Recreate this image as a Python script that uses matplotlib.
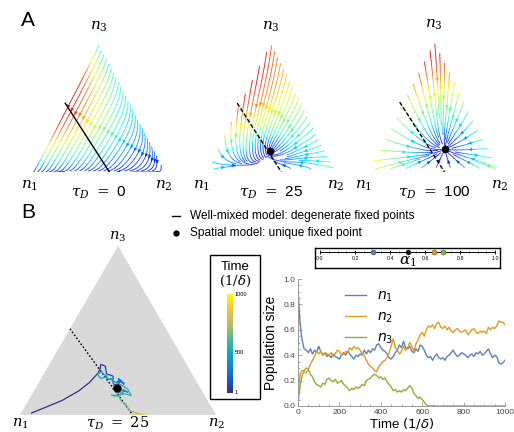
import numpy as np
import matplotlib.pyplot as plt
from matplotlib.collections import LineCollection
from matplotlib.colors import LinearSegmentedColormap, ListedColormap, Normalize
from matplotlib.patches import Rectangle, Polygon
from matplotlib.lines import Line2D

# ---- data ----
tau_labels = ["0", "25", "100"]
attract_weight = [0.0, 0.45, 0.85]
# fixed points (n1, n2, n3); None where the well-mixed model has only the line
fixed_pts = [None, (0.43, 0.415, 0.155), (0.335, 0.495, 0.17)]
fixed_pt_B = (0.425, 0.415, 0.16)
# degenerate fixed-point line: left-edge end (n3) and bottom-edge end (n2)
line_n3_left = 0.51
line_n2_bottom = 0.575
line_styles = ["-", (0, (3, 1.5)), (0, (3, 1.5))]
# number of seed streamlines along the right, left and bottom edges of each simplex
seeds_per_edge = [(28, 0, 0), (22, 9, 7), (14, 11, 9)]

alpha_dots = [0.3, 0.5, 0.65, 0.7]
alpha_cols = ["#5e81b5", "black", "#e19c24", "#8fb032"]

t = [0, 5, 10, 15, 20, 25, 30] + list(range(40, 1001, 10))
n1 = [0.93, 0.78, 0.66, 0.58, 0.52, 0.48, 0.45, 0.44, 0.42, 0.45, 0.41, 0.44, 0.42, 0.47,
      0.43, 0.40, 0.42, 0.39, 0.40, 0.38, 0.41, 0.39, 0.38, 0.37, 0.40, 0.42, 0.40, 0.43,
      0.41, 0.39, 0.37, 0.40, 0.39, 0.41, 0.40, 0.44, 0.41, 0.44, 0.42, 0.45, 0.44, 0.48,
      0.49, 0.46, 0.44, 0.43, 0.41, 0.38, 0.37, 0.39, 0.42, 0.44, 0.48, 0.46, 0.51, 0.46,
      0.45, 0.47, 0.43, 0.42, 0.45, 0.43, 0.48, 0.47, 0.44, 0.40, 0.38, 0.39, 0.36, 0.39,
      0.41, 0.38, 0.37, 0.38, 0.36, 0.39, 0.40, 0.42, 0.44, 0.41, 0.39, 0.40, 0.42, 0.41,
      0.40, 0.38, 0.40, 0.41, 0.39, 0.42, 0.41, 0.43, 0.40, 0.41, 0.43, 0.45, 0.41, 0.38,
      0.40, 0.39, 0.34, 0.33, 0.34, 0.36]
n2 = [0.05, 0.18, 0.24, 0.27, 0.28, 0.28, 0.27, 0.26, 0.29, 0.33, 0.36, 0.39, 0.43, 0.41,
      0.43, 0.40, 0.42, 0.41, 0.40, 0.42, 0.39, 0.41, 0.44, 0.43, 0.40, 0.41, 0.43, 0.42,
      0.46, 0.44, 0.47, 0.45, 0.46, 0.44, 0.41, 0.40, 0.36, 0.33, 0.31, 0.30, 0.28, 0.27,
      0.31, 0.33, 0.35, 0.36, 0.38, 0.42, 0.47, 0.53, 0.46, 0.44, 0.41, 0.43, 0.47, 0.44,
      0.46, 0.50, 0.47, 0.43, 0.49, 0.52, 0.56, 0.58, 0.55, 0.60, 0.63, 0.62, 0.64, 0.61,
      0.65, 0.66, 0.62, 0.61, 0.63, 0.60, 0.62, 0.59, 0.58, 0.60, 0.61, 0.59, 0.58, 0.59,
      0.60, 0.56, 0.58, 0.60, 0.61, 0.58, 0.57, 0.59, 0.58, 0.59, 0.57, 0.62, 0.60, 0.62,
      0.61, 0.63, 0.67, 0.66, 0.66, 0.64]
n3 = [0.01, 0.09, 0.15, 0.20, 0.24, 0.26, 0.28, 0.30, 0.29, 0.25, 0.23, 0.19, 0.17, 0.16,
      0.15, 0.18, 0.17, 0.21, 0.22, 0.20, 0.19, 0.21, 0.18, 0.19, 0.20, 0.17, 0.16, 0.14,
      0.12, 0.14, 0.13, 0.15, 0.14, 0.15, 0.17, 0.16, 0.20, 0.21, 0.22, 0.24, 0.25, 0.24,
      0.22, 0.23, 0.21, 0.22, 0.19, 0.17, 0.15, 0.12, 0.13, 0.11, 0.12, 0.11, 0.13, 0.12,
      0.14, 0.16, 0.14, 0.10, 0.08, 0.06, 0.07, 0.05, 0.03, 0.01, 0.0, 0.0, 0.0, 0.0,
      0.0, 0.0, 0.0, 0.0, 0.0, 0.0, 0.0, 0.0, 0.0, 0.0, 0.0, 0.0, 0.0, 0.0,
      0.0, 0.0, 0.0, 0.0, 0.0, 0.0, 0.0, 0.0, 0.0, 0.0, 0.0, 0.0, 0.0, 0.0,
      0.0, 0.0, 0.0, 0.0, 0.0, 0.0]

c_n1, c_n2, c_n3 = "#5e81b5", "#e19c24", "#8fb032"

plt.rcParams['font.family'] = ['Liberation Sans', 'DejaVu Sans']

W, H = 514, 432
fig = plt.figure(figsize=(W / 100, H / 100), dpi=100)


def px_axes(x0, y0, x1, y1):
    return fig.add_axes([x0 / W, 1 - y1 / H, (x1 - x0) / W, (y1 - y0) / H])


def to_xy(b1, b2, b3):
    s = b1 + b2 + b3
    return (b2 + 0.5 * b3) / s, b3 / s


jet = ListedColormap(plt.cm.jet(np.linspace(0.15, 0.92, 256)))
parula = LinearSegmentedColormap.from_list(
    "parula", ["#352a87", "#0f5cdd", "#1481d6", "#06a4ca", "#2eb7a4",
               "#87bf77", "#d1bb59", "#fec832", "#f9fb0e"])


def tri_labels(ax, tau, h):
    kw = dict(ha="center", va="center", fontsize=11, math_fontfamily="dejavuserif")
    ax.text(0.5, 1 + 10 / h, r"$n_3$", **kw)
    ax.text(0.0, -14 / h, r"$n_1$", **kw)
    ax.text(0.97, -14 / h, r"$n_2$", **kw)
    ax.text(0.5, -21 / h, r"$\tau_D\ =\ $" + tau, **kw)


def flow(w, fp):
    xs = np.linspace(0, 1, 160)
    X, Y = np.meshgrid(xs, xs)
    b3 = Y
    b2 = X - 0.5 * Y
    b1 = 1 - b2 - b3
    inside = (b1 >= -0.004) & (b2 >= -0.004)
    # exchange fluxes 3->1, 3->2 (only close to the n2-n3 edge), 2->1
    F31 = b3 * (b1 + 0.06)
    F32 = 0.3 * b2 * b3 * np.exp(-np.clip(b1, 0, None) / 0.08)
    F21 = 0.05 * b1 * b2
    d1 = F31 + F21
    d2 = F32 - F21
    d3 = -F31 - F32
    if fp is not None:
        dist = np.sqrt((b1 - fp[0]) ** 2 + (b2 - fp[1]) ** 2 + (b3 - fp[2]) ** 2)
        damp = np.minimum(1, dist / 0.25)
        d1 = (1 - w) * d1 * damp + w * 0.45 * (fp[0] - b1)
        d2 = (1 - w) * d2 * damp + w * 0.45 * (fp[1] - b2)
        d3 = (1 - w) * d3 * damp + w * 0.45 * (fp[2] - b3)
    U = d2 + 0.5 * d3
    V = d3
    spd = np.sqrt(U ** 2 + V ** 2)
    lo, hi = np.percentile(spd[inside], [3, 97])
    spd = np.clip(spd, lo, hi)
    spd[~inside] = lo
    U = np.ma.array(U, mask=~inside)
    V = np.ma.array(V, mask=~inside)
    return X, Y, U, V, spd, Normalize(lo, hi)


def seeds(nr, nl, nb):
    e = 0.02
    pts = []
    for s in np.linspace(0.03, 0.95, nr) if nr else []:
        pts.append(to_xy(e, 1 - e - s, s))
    for s in np.linspace(0.08, 0.9, nl) if nl else []:
        pts.append(to_xy(1 - e - s, e, s))
    for s in np.linspace(0.06, 0.94, nb) if nb else []:
        pts.append(to_xy(1 - e - s, s, e))
    return np.array(pts)


# ---- panel A ----
boxes_A = [(30, 37, 168, 172), (202, 37, 340, 172), (364, 35, 504, 172)]
for i, (x0, y0, x1, y1) in enumerate(boxes_A):
    ax = px_axes(x0, y0, x1, y1)
    X, Y, U, V, spd, nrm = flow(attract_weight[i], fixed_pts[i])
    kw = dict(color=spd, cmap=jet, norm=nrm, linewidth=0.6, arrowsize=0.4,
              start_points=seeds(*seeds_per_edge[i]), density=2.6,
              integration_direction="forward", maxlength=6.0)
    try:
        ax.streamplot(X, Y, U, V, num_arrows=3, **kw)
    except TypeError:
        ax.streamplot(X, Y, U, V, **kw)
    lx, ly = to_xy(1 - line_n3_left, 0, line_n3_left)
    bx, by = to_xy(1 - line_n2_bottom, line_n2_bottom, 0)
    ax.plot([lx, bx], [ly, by], color="black", lw=1.0, ls=line_styles[i])
    if fixed_pts[i] is not None:
        px, py = to_xy(*fixed_pts[i])
        ax.plot(px, py, "o", color="black", ms=4.5)
    ax.set_xlim(0, 1)
    ax.set_ylim(0, 1)
    ax.axis("off")
    tri_labels(ax, tau_labels[i], y1 - y0)

fig.text(28 / W, 1 - 20 / H, "A", fontsize=15, ha="center", va="center")
fig.text(28 / W, 1 - 213 / H, "B", fontsize=15, ha="center", va="center")

# ---- legend text ----
fig.add_artist(Line2D([172 / W, 180 / W], [1 - 216 / H] * 2, color="black", lw=1.0))
fig.add_artist(Line2D([176 / W], [1 - 233 / H], marker="o", color="black", ms=3.5))
fig.text(190 / W, 1 - 216 / H, "Well-mixed model: degenerate fixed points",
         fontsize=8.6, va="center")
fig.text(190 / W, 1 - 233 / H, "Spatial model: unique fixed point",
         fontsize=8.6, va="center")

# ---- panel B simplex ----
axb = px_axes(20, 246, 216, 415)
axb.add_patch(Polygon([[0, 0], [1, 0], [0.5, 1]], closed=True, color="#d9d9d9", lw=0))
lx, ly = to_xy(1 - line_n3_left, 0, line_n3_left)
bx, by = to_xy(1 - line_n2_bottom, line_n2_bottom, 0)
axb.plot([lx, bx], [ly, by], color="black", lw=1.1, ls=(0, (1, 1.4)))
pts = np.array([to_xy(a, b, c) for a, b, c in zip(n1, n2, n3)])
segs = np.stack([pts[:-1], pts[1:]], axis=1)
lc = LineCollection(segs, cmap=parula, linewidths=0.9)
lc.set_array(np.array(t[1:], dtype=float))
lc.set_clim(1, 1000)
axb.add_collection(lc)
px, py = to_xy(*fixed_pt_B)
axb.plot(px, py, "o", color="black", ms=5)
axb.set_xlim(0, 1)
axb.set_ylim(0, 1)
axb.axis("off")
hb = 415 - 246
kw = dict(ha="center", va="center", fontsize=10.5, math_fontfamily="dejavuserif")
axb.text(0.5, 1 + 9 / hb, r"$n_3$", **kw)
axb.text(0.0, -9 / hb, r"$n_1$", **kw)
axb.text(1.0, -9 / hb, r"$n_2$", **kw)
axb.text(0.5, -8 / hb, r"$\tau_D\ =\ 25$", **kw)

# ---- colorbar box ----
fig.add_artist(Rectangle((210 / W, 1 - 399 / H), 50 / W, 144 / H, transform=fig.transFigure,
                         fill=False, ec="black", lw=1.0))
fig.text(235 / W, 1 - 267 / H, "Time", fontsize=9.5, ha="center", va="center")
fig.text(235 / W, 1 - 281 / H, r"$(1/\delta)$", fontsize=9.5, ha="center", va="center",
         math_fontfamily="dejavuserif")
cax = px_axes(227, 294, 233, 393)
cax.imshow(np.linspace(1, 0, 200)[:, None], aspect="auto", cmap=parula, extent=[0, 1, 0, 1])
cax.set_xticks([])
cax.set_yticks([])
for s in cax.spines.values():
    s.set_visible(False)
for lab, yy in [("1000", 295), ("500", 353), ("1", 392)]:
    fig.text(235 / W, 1 - yy / H, lab, fontsize=4, va="center")

# ---- alpha scale ----
axa = px_axes(315, 248, 500, 268)
axa.set_xlim(-5 / 175, 1 + 5 / 175)
axa.set_ylim(0, 1)
axa.set_xticks([])
axa.set_yticks([])
for s in axa.spines.values():
    s.set_linewidth(1.0)
axa.plot([0, 1], [0.8, 0.8], color="black", lw=0.7)
axa.vlines(np.arange(0, 1.001, 0.2), 0.68, 0.92, color="black", lw=0.6)
axa.vlines(np.arange(0.05, 1.0, 0.05), 0.74, 0.86, color="black", lw=0.5)
for v in np.arange(0, 1.001, 0.2):
    axa.text(v, 0.45, f"{v:.1f}", fontsize=3.8, ha="center", va="center")
for v, c in zip(alpha_dots, alpha_cols):
    axa.plot(v, 0.8, "o", color=c, ms=3.6, mec="#333333", mew=0.3)
axa.text(0.5, 0.3, r"$\alpha_1$", fontsize=11, ha="center", va="center",
         math_fontfamily="dejavuserif")

# ---- time series ----
axt = px_axes(298, 279, 505, 406)
axt.plot(t, n1, color=c_n1, lw=1.0, label=r"$n_1$")
axt.plot(t, n2, color=c_n2, lw=1.0, label=r"$n_2$")
axt.plot(t, n3, color=c_n3, lw=1.0, label=r"$n_3$")
axt.set_xlim(0, 1000)
axt.set_ylim(0, 1.0)
axt.set_xticks(range(0, 1001, 200))
axt.set_xticks(range(0, 1001, 50), minor=True)
axt.set_yticks(np.arange(0, 1.01, 0.2))
axt.set_yticks(np.arange(0, 1.01, 0.05), minor=True)
axt.set_yticklabels([f"{v:.1f}" for v in np.arange(0, 1.01, 0.2)])
for s in ["top", "right"]:
    axt.spines[s].set_visible(False)
for s in ["left", "bottom"]:
    axt.spines[s].set_color("#999999")
    axt.spines[s].set_linewidth(0.7)
axt.tick_params(which="both", direction="in", colors="#999999", labelcolor="#444444",
                labelsize=6, width=0.6, pad=2)
axt.tick_params(which="major", length=3)
axt.tick_params(which="minor", length=1.5)
axt.set_ylabel("Population size", fontsize=10, labelpad=4)
axt.set_xlabel(r"Time $(1/\delta)$", fontsize=9.5, labelpad=0)
axt.legend(loc="upper left", bbox_to_anchor=(338 / W, 1 - 282 / H), bbox_transform=fig.transFigure,
           frameon=False, fontsize=10, handlelength=1.5, labelspacing=0.4, borderpad=0)

fig.savefig("out.png", dpi=100)
